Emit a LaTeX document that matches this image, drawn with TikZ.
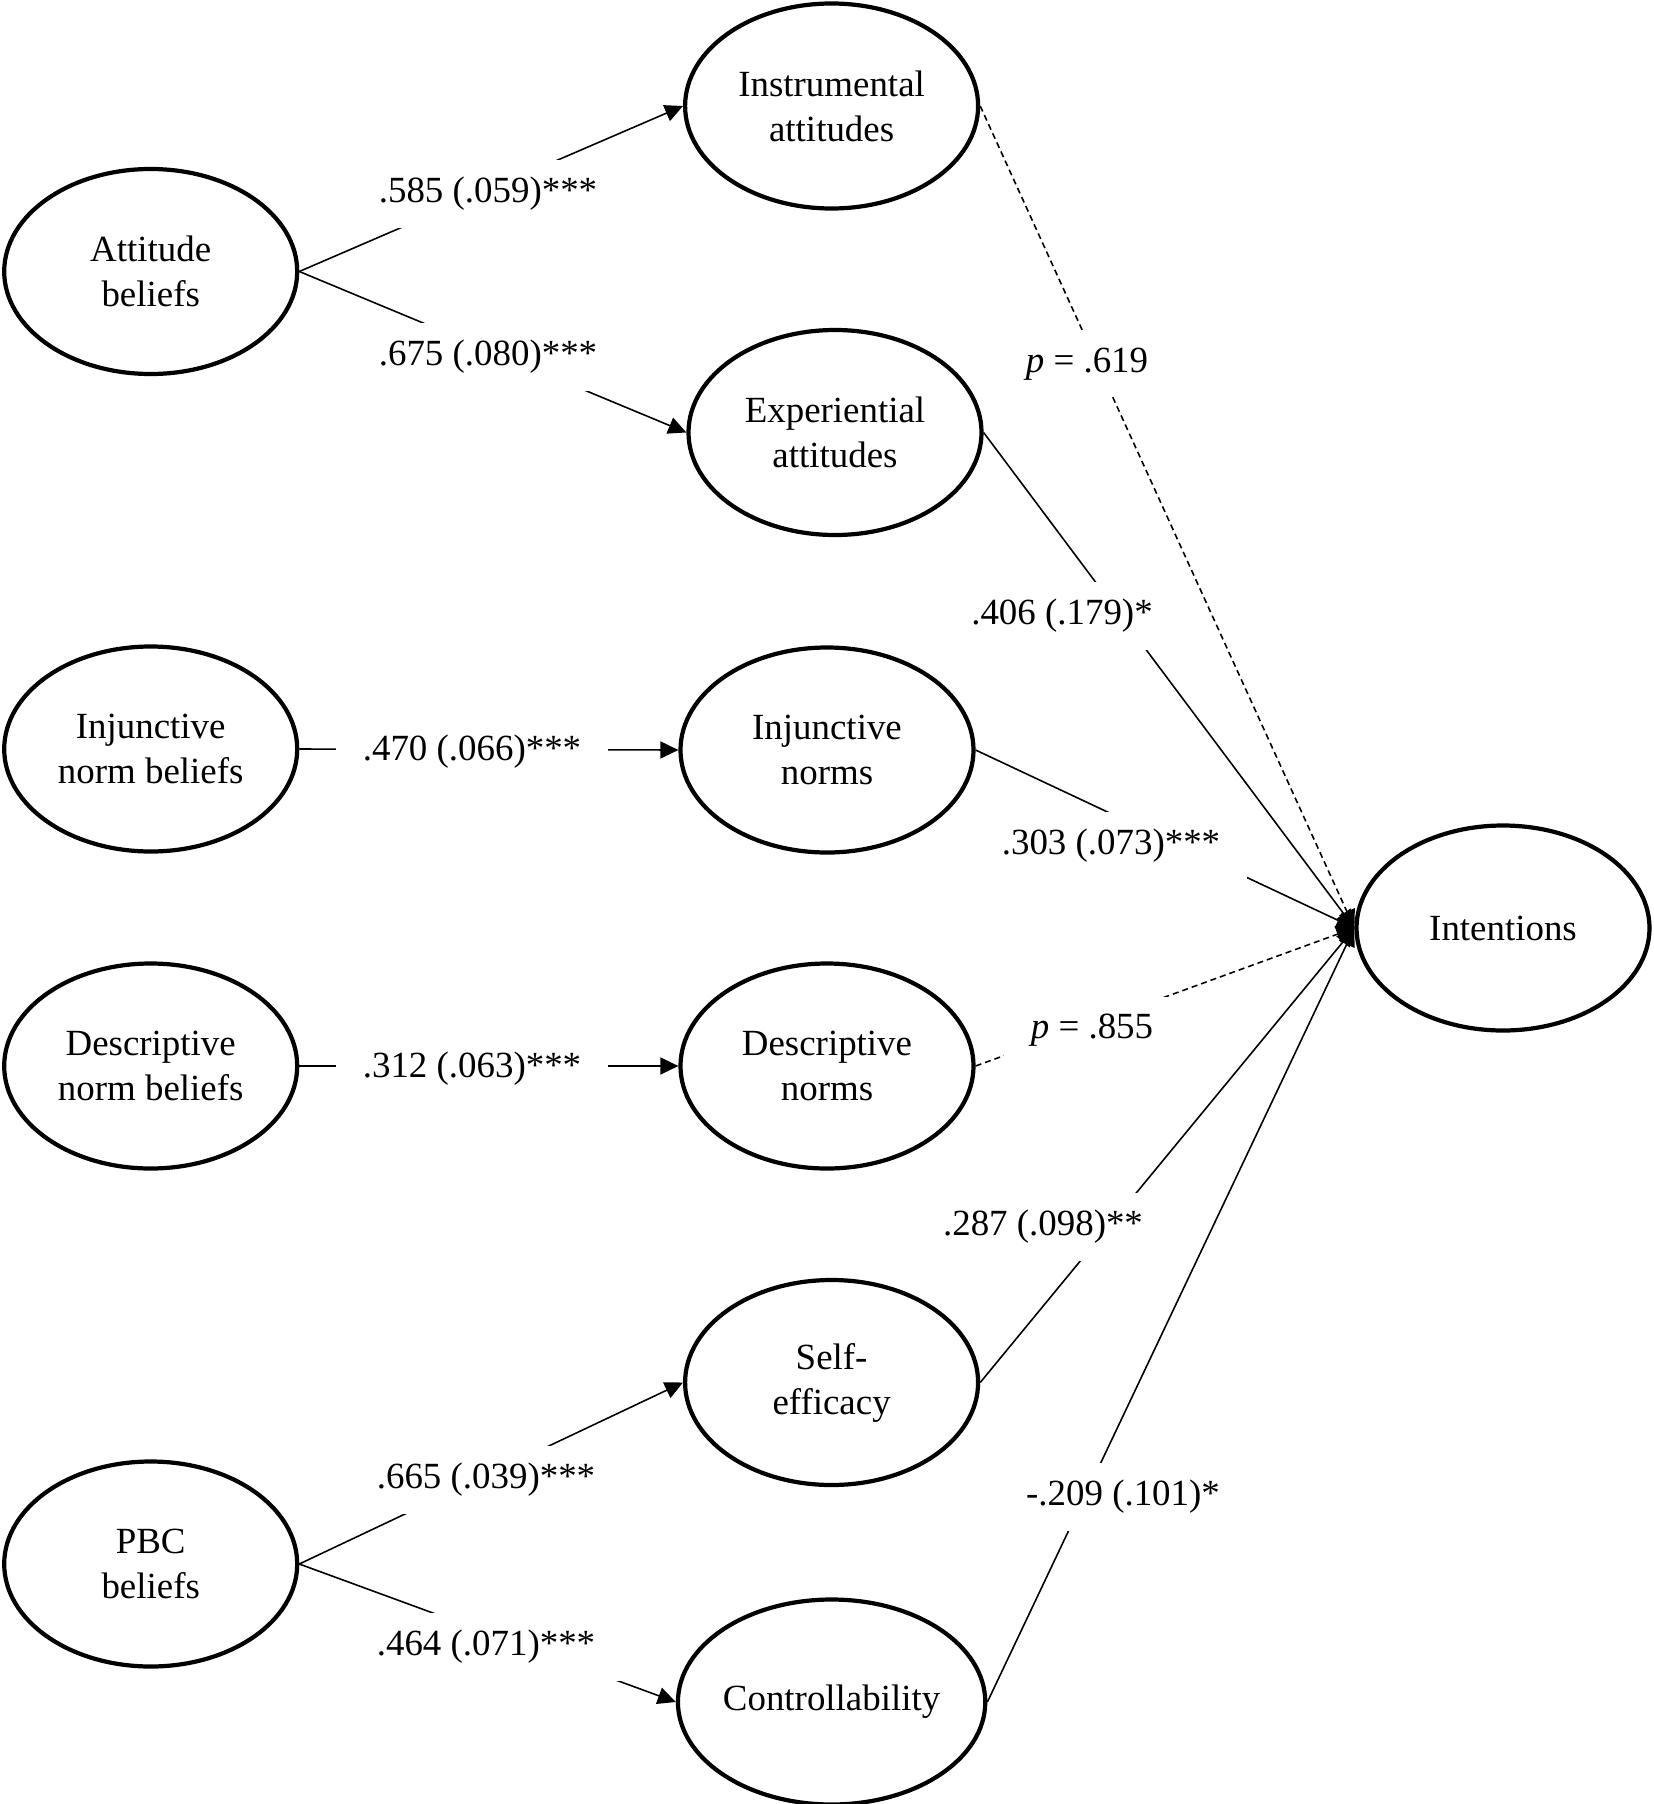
\documentclass[tikz,border=0pt]{standalone}
\usepackage{fontspec}
\setmainfont{Liberation Serif}
\usetikzlibrary{arrows.meta,shapes.geometric}

\begin{document}
\begin{tikzpicture}[x=1cm, y=-1cm,
	latent/.style={draw, ellipse, line width=1.2pt, minimum width=2.93cm, minimum height=2.05cm, inner sep=0pt, align=center, font=\fontsize{10.5}{12.8}\selectfont},
	coef/.style={fill=white, inner xsep=0.27cm, inner ysep=0.17cm, font=\fontsize{10.5}{12.8}\selectfont},
	effect/.style={line width=0.45pt, -{Triangle[length=1.8mm, width=1.7mm]}},
	nseffect/.style={effect, dash pattern=on 0.06cm off 0.04cm}]

	\useasboundingbox (0,0) rectangle (16.54,18.04);

	% beliefs
	\node[latent] (att)  at (1.507, 2.715) {Attitude\\beliefs};
	\node[latent] (injb) at (1.507, 7.49)  {Injunctive\\norm beliefs};
	\node[latent] (desb) at (1.507, 10.66) {Descriptive\\norm beliefs};
	\node[latent] (pbcb) at (1.507, 15.64) {PBC\\beliefs};

	% constructs
	\node[latent] (inst) at (8.316, 1.06)  {Instrumental\\attitudes};
	\node[latent] (expe) at (8.35, 4.325)  {Experiential\\attitudes};
	\node[latent] (injn) at (8.27, 7.5)    {Injunctive\\norms};
	\node[latent] (desn) at (8.27, 10.66)  {Descriptive\\norms};
	\node[latent] (self) at (8.316, 13.825) {Self-\\efficacy};
	\node[latent] (ctrl) at (8.316, 17.02) {Controllability};

	\node[latent] (intn) at (15.03, 9.28)  {Intentions};

	% paths
	\draw[effect] (att.east) -- (inst.west);
	\draw[effect] (att.east) -- (expe.west);
	\draw[effect] (injb.east) -- (injn.west);
	\draw[effect] (desb.east) -- (desn.west);
	\draw[effect] (pbcb.east) -- (self.west);
	\draw[effect] (pbcb.east) -- (ctrl.west);

	\draw[nseffect] (inst.east) -- (intn.west);
	\draw[effect] (expe.east) -- (intn.west);
	\draw[effect] (injn.east) -- (intn.west);
	\draw[nseffect] (desn.east) -- (intn.west);
	\draw[effect] (self.east) -- (intn.west);
	\draw[effect] (ctrl.east) -- (intn.west);

	% coefficients
	\node[coef] (cAttInst) at (4.88, 1.94)  {.585 (.059)***};
	\node[coef] (cAttExpe) at (4.88, 3.57)  {.675 (.080)***};
	\node[coef] (cInjb)    at (4.72, 7.52)  {.470 (.066)***};
	\node[coef] (cDesb)    at (4.72, 10.69) {.312 (.063)***};
	\node[coef] (cPbcSelf) at (4.86, 14.80) {.665 (.039)***};
	\node[coef] (cPbcCtrl) at (4.86, 16.47) {.464 (.071)***};

	\node[coef] (cInst) at (10.87, 3.64)  {\textit{p} = .619};
	\node[coef] (cExpe) at (10.62, 6.16)  {.406 (.179)*};
	\node[coef] (cInjn) at (11.11, 8.46)  {.303 (.073)***};
	\node[coef] (cDesn) at (10.92, 10.30) {\textit{p} = .855};
	\node[coef] (cSelf) at (10.43, 12.27) {.287 (.098)**};
	\node[coef] (cCtrl) at (11.23, 14.97) {-.209 (.101)*};

\end{tikzpicture}
\end{document}
